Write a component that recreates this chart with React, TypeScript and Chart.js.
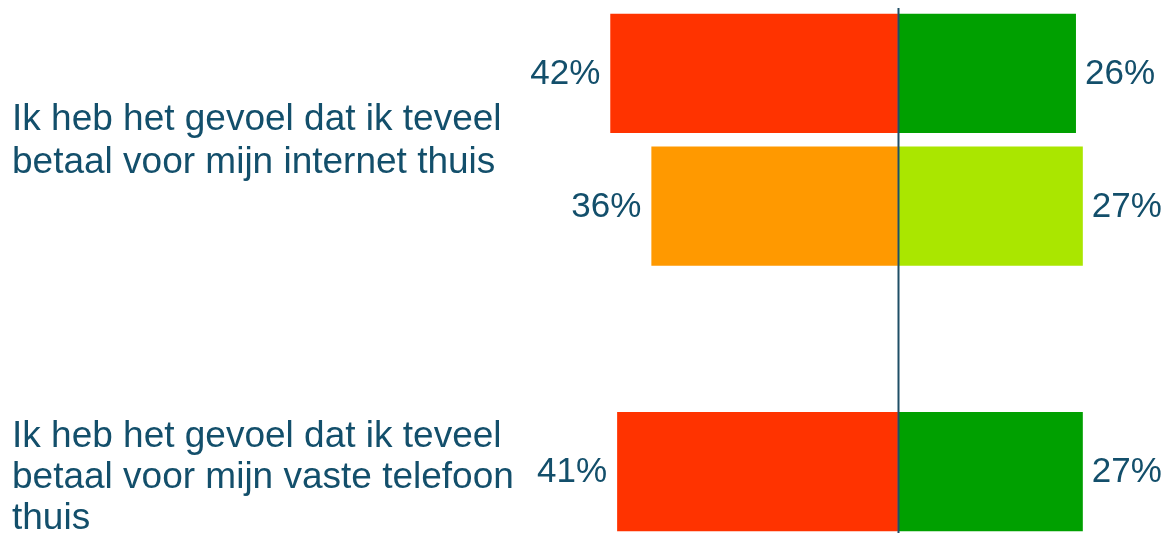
import React, { useEffect, useRef } from "react";
import { Chart, registerables } from "chart.js";

Chart.register(...registerables);

// Row slots (third slot is an empty spacer between the two statements)
const rowSlots = ["internet-1", "internet-2", "spacer", "telefoon"];
const negativeValues: (number | null)[] = [42, 36, null, 41];
const positiveValues: (number | null)[] = [26, 27, null, 27];
const negativeColors = ["#FF3300", "#FF9900", "#FFFFFF", "#FF3300"];
const positiveColors = ["#00A000", "#AAE600", "#FFFFFF", "#00A000"];

// Statement labels and the row slots they belong to
const statementLines = [
  ["Ik heb het gevoel dat ik teveel", "betaal voor mijn internet thuis"],
  ["Ik heb het gevoel dat ik teveel", "betaal voor mijn vaste telefoon", "thuis"],
];
const statementRows = [[0, 1], [3]];

const TEXT_COLOR = "#134F6B";
const LINE_COLOR = "#1F4E66";
const FONT = '"Liberation Sans", Arial, sans-serif';
const LABEL_Y_SHIFT = [2, 6];
const LABEL_LINE_HEIGHT = [43, 41];

export default function App() {
  const ref = useRef<HTMLCanvasElement | null>(null);

  useEffect(() => {
    if (!ref.current) return;

    const overlay = {
      id: "overlay",
      afterDatasetsDraw(chart: any) {
        const ctx = chart.ctx;
        const xs = chart.scales.x;
        const ys = chart.scales.y;
        const area = chart.chartArea;
        // value labels
        ctx.save();
        ctx.fillStyle = TEXT_COLOR;
        ctx.font = `35px ${FONT}`;
        ctx.textBaseline = "middle";
        chart.data.datasets.forEach((ds: any, di: number) => {
          const meta = chart.getDatasetMeta(di);
          meta.data.forEach((bar: any, i: number) => {
            const raw = di === 0 ? negativeValues[i] : positiveValues[i];
            if (raw == null) return;
            const txt = `${raw}%`;
            if (di === 0) {
              ctx.textAlign = "right";
              ctx.fillText(txt, bar.x - 10, bar.y + 1);
            } else {
              ctx.textAlign = "left";
              ctx.fillText(txt, bar.x + 9, bar.y + 1);
            }
          });
        });
        // statement labels
        ctx.font = `37px ${FONT}`;
        ctx.textAlign = "left";
        statementLines.forEach((lines, si) => {
          const lh = LABEL_LINE_HEIGHT[si];
          const rows = statementRows[si];
          const cy =
            rows.reduce((s, r) => s + ys.getPixelForValue(r), 0) / rows.length;
          const start = cy - ((lines.length - 1) * lh) / 2 + LABEL_Y_SHIFT[si];
          lines.forEach((ln, li) => {
            ctx.fillText(ln, 12, start + li * lh);
          });
        });
        // center line
        const x0 = Math.round(xs.getPixelForValue(0)) + 0.5;
        ctx.strokeStyle = LINE_COLOR;
        ctx.lineWidth = 2;
        ctx.beginPath();
        ctx.moveTo(x0, area.top + 1);
        ctx.lineTo(x0, chart.height);
        ctx.stroke();
        ctx.restore();
      },
    };

    const chart = new Chart(ref.current, {
      type: "bar",
      data: {
        labels: rowSlots,
        datasets: [
          {
            data: negativeValues.map((v) => (v == null ? null : -v)),
            backgroundColor: negativeColors,
            borderWidth: 0,
            barPercentage: 0.9,
            categoryPercentage: 1,
          },
          {
            data: positiveValues.map((v) => (v == null ? null : v)),
            backgroundColor: positiveColors,
            borderWidth: 0,
            barPercentage: 0.9,
            categoryPercentage: 1,
          },
        ],
      },
      options: {
        indexAxis: "y",
        responsive: false,
        animation: false,
        devicePixelRatio: 1,
        layout: { padding: { left: 487, right: 0, top: 7, bottom: 7 } },
        plugins: {
          legend: { display: false },
          tooltip: { enabled: false },
          title: { display: false },
        },
        scales: {
          x: { display: false, stacked: true, min: -60, max: 39 },
          y: { display: false, stacked: true },
        },
      },
      plugins: [overlay],
    } as any);

    return () => chart.destroy();
  }, []);

  return (
    <div
      style={{
        position: "absolute",
        top: 0,
        left: 0,
        width: 1165,
        height: 533,
        overflow: "hidden",
        background: "#FFFFFF",
      }}
    >
      <canvas ref={ref} width={1165} height={545} style={{ display: "block" }} />
    </div>
  );
}
